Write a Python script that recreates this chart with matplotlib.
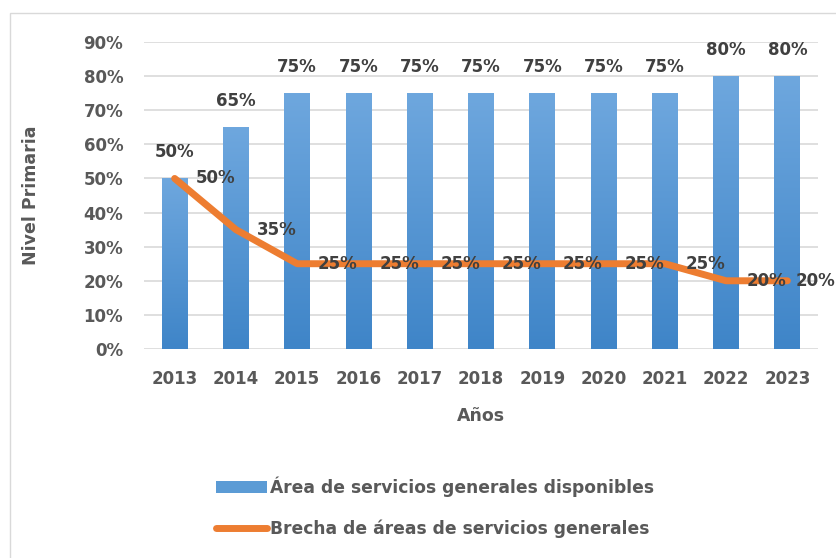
import numpy as np
import matplotlib.pyplot as plt
from matplotlib.patches import Rectangle
from matplotlib.lines import Line2D

years = ["2013", "2014", "2015", "2016", "2017", "2018", "2019", "2020", "2021", "2022", "2023"]
disponibles = [0.50, 0.65, 0.75, 0.75, 0.75, 0.75, 0.75, 0.75, 0.75, 0.80, 0.80]
brecha = [0.50, 0.35, 0.25, 0.25, 0.25, 0.25, 0.25, 0.25, 0.25, 0.20, 0.20]

plt.rcParams["font.family"] = ["DejaVu Sans"]
plt.rcParams["font.weight"] = "bold"
plt.rcParams["axes.labelweight"] = "bold"
grey = "#595959"
dark = "#404040"
fs = 12

fig = plt.figure(figsize=(8.37, 5.58), dpi=100)
fig.patches.append(Rectangle((10 / 837, -0.1), 1.2, 1 - 13 / 558 + 0.1, transform=fig.transFigure,
                             fill=False, edgecolor="#d9d9d9", lw=1))
ax = fig.add_axes([144 / 837, 1 - 349 / 558, 674 / 837, 307 / 558])

x = np.arange(len(years))
w = 0.42
grad = np.linspace(0, 1, 100).reshape(-1, 1)
cmap = plt.matplotlib.colors.LinearSegmentedColormap.from_list("b", ["#3f85c8", "#6ea7de"])
bars = ax.bar(x, disponibles, w, color="#5b9bd5", zorder=2)
for b in bars:
    bx, by = b.get_x(), b.get_y()
    im = ax.imshow(grad, cmap=cmap, aspect="auto", origin="lower", zorder=2.1,
                   extent=[bx, bx + b.get_width(), by, by + b.get_height()])
    im.set_clip_path(b)
ax.set_xlim(-0.5, len(years) - 0.5)
ax.set_ylim(0, 0.9)

ax.plot(x, brecha, color="#ed7d31", lw=5, solid_capstyle="round", solid_joinstyle="round", zorder=3)

for xi, v in zip(x, disponibles):
    ax.annotate(f"{v:.0%}", (xi, v), xytext=(0, 19), textcoords="offset points",
                ha="center", va="center", fontsize=fs, color=dark)
for i, (xi, v) in enumerate(zip(x, brecha)):
    off = 6 if i == len(x) - 1 else 15
    ax.annotate(f"{v:.0%}", (xi, v), xytext=(off, 0), textcoords="offset points",
                ha="left", va="center", fontsize=fs, color=dark,
                annotation_clip=False, zorder=4)

ax.set_yticks(np.arange(0, 0.91, 0.1))
ax.set_yticklabels([f"{t}%" for t in range(0, 91, 10)])
ax.set_xticks(x)
ax.set_xticklabels(years)
ax.tick_params(length=0, labelsize=fs, colors=grey, pad=15)
ax.yaxis.grid(True, color="#d9d9d9", lw=1.2)
ax.set_axisbelow(True)
for s in ax.spines.values():
    s.set_visible(False)

ax.set_ylabel("Nivel Primaria", fontsize=12.5, color=grey, labelpad=31)
ax.set_xlabel("Años", fontsize=12.5, color=grey, labelpad=14)

handles = [Rectangle((0, 0), 1, 1, facecolor="#5b9bd5"),
           Line2D([], [], color="#ed7d31", lw=5, solid_capstyle="round")]
fig.legend(handles, ["Área de servicios generales disponibles", "Brecha de áreas de servicios generales"],
           loc="upper left", bbox_to_anchor=(207 / 837, 1 - 468 / 558), frameon=False,
           fontsize=12.3, labelcolor=grey, handlelength=3.0, handletextpad=0.2,
           labelspacing=1.3, borderpad=0)

fig.savefig("out.png", dpi=100)
